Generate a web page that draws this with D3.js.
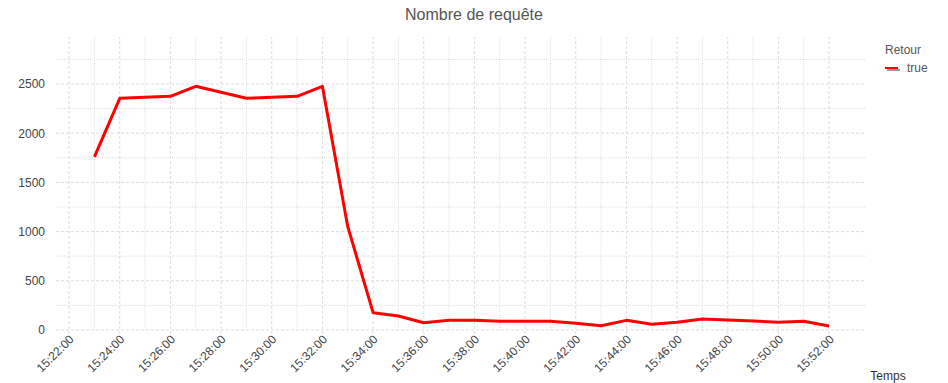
<!DOCTYPE html>
<html>
<head>
<meta charset="utf-8">
<script src="https://cdn.jsdelivr.net/npm/d3@7"></script>
<style>
  body { margin: 0; background: #fff; }
  svg { display: block; font-family: "Liberation Sans", Arial, sans-serif; }
</style>
</head>
<body>
<div id="chart"></div>
<script>
// minutes 15:23 .. 15:52, one point each
const times = ["15:23","15:24","15:25","15:26","15:27","15:28","15:29","15:30","15:31","15:32",
               "15:33","15:34","15:35","15:36","15:37","15:38","15:39","15:40","15:41","15:42",
               "15:43","15:44","15:45","15:46","15:47","15:48","15:49","15:50","15:51","15:52"];
const requests = [1760, 2354, 2365, 2374, 2476, 2415, 2354, 2365, 2374, 2476,
                  1050, 176, 142, 74, 98, 98, 88, 88, 88, 68,
                  44, 98, 58, 78, 112, 102, 91, 78, 88, 41];
const yTicks = [0, 500, 1000, 1500, 2000, 2500];
const seriesName = "true";

const width = 948, height = 383;
const margin = { top: 37, right: 83, bottom: 53, left: 56 };

const parse = d3.timeParse("%H:%M");
const data = times.map((t, i) => ({ t: parse(t), v: requests[i] }));

const svg = d3.select("#chart").append("svg")
  .attr("width", width)
  .attr("height", height);

const x = d3.scaleTime()
  .domain([d3.timeSecond.offset(parse("15:22"), -31), d3.timeSecond.offset(parse("15:52"), 85)])
  .range([margin.left, width - margin.right]);

const y = d3.scaleLinear()
  .domain([0, 2977])
  .range([height - margin.bottom, margin.top]);

const x0 = margin.left, x1 = width - margin.right;
const y0 = height - margin.bottom, y1 = margin.top;

// minor grid
const minorX = d3.timeMinute.range(parse("15:23"), parse("15:53"), 2);
svg.append("g").selectAll("line").data(minorX).join("line")
  .attr("x1", d => x(d)).attr("x2", d => x(d))
  .attr("y1", y0).attr("y2", y1)
  .attr("stroke", "#ddd").attr("stroke-dasharray", "1,1");
const minorY = d3.range(250, 3000, 500);
svg.append("g").selectAll("line").data(minorY).join("line")
  .attr("x1", x0).attr("x2", x1)
  .attr("y1", d => y(d)).attr("y2", d => y(d))
  .attr("stroke", "#ddd").attr("stroke-dasharray", "1,1");

// major grid
const majorX = d3.timeMinute.range(parse("15:22"), parse("15:53"), 2);
svg.append("g").selectAll("line").data(majorX).join("line")
  .attr("x1", d => x(d)).attr("x2", d => x(d))
  .attr("y1", y0 + 4).attr("y2", y1)
  .attr("stroke", "#ddd").attr("stroke-dasharray", "3,2");
svg.append("g").selectAll("line").data(yTicks).join("line")
  .attr("x1", x0).attr("x2", x1)
  .attr("y1", d => y(d)).attr("y2", d => y(d))
  .attr("stroke", "#ddd").attr("stroke-dasharray", "3,2");

// axes labels
const xAxis = d3.axisBottom(x).tickValues(majorX).tickFormat(d3.timeFormat("%H:%M:%S")).tickSize(0);
const gx = svg.append("g").attr("transform", `translate(0,${y0})`).call(xAxis);
gx.select(".domain").remove();
gx.selectAll("text")
  .attr("fill", "#444").attr("font-size", 12)
  .attr("text-anchor", "end")
  .attr("dy", null).attr("y", 0)
  .attr("transform", "translate(5,10) rotate(-45)");

const yAxis = d3.axisLeft(y).tickValues(yTicks).tickFormat(d3.format("d")).tickSize(0).tickPadding(11);
const gy = svg.append("g").attr("transform", `translate(${x0},0)`).call(yAxis);
gy.select(".domain").remove();
gy.selectAll("text").attr("fill", "#444").attr("font-size", 12);

// line
svg.append("path").datum(data)
  .attr("fill", "none")
  .attr("stroke", "#ff0000")
  .attr("stroke-width", 3)
  .attr("stroke-linejoin", "round")
  .attr("d", d3.line().x(d => x(d.t)).y(d => y(d.v)));

// title
svg.append("text")
  .attr("x", 474).attr("y", 20)
  .attr("text-anchor", "middle")
  .attr("fill", "#555").attr("font-size", 16)
  .text("Nombre de requête");

// x title
svg.append("text")
  .attr("x", 888).attr("y", 380)
  .attr("text-anchor", "middle")
  .attr("fill", "#333").attr("font-size", 12)
  .text("Temps");

// legend
const lg = svg.append("g").attr("transform", "translate(885,0)");
lg.append("text").attr("x", 0).attr("y", 54)
  .attr("fill", "#555").attr("font-size", 12).text("Retour");
lg.append("line").attr("x1", 2).attr("x2", 15).attr("y1", 70).attr("y2", 70)
  .attr("stroke", "#999").attr("stroke-width", 2);
lg.append("line").attr("x1", 0).attr("x2", 13).attr("y1", 68).attr("y2", 68)
  .attr("stroke", "#ff0000").attr("stroke-width", 2);
lg.append("text").attr("x", 22).attr("y", 72)
  .attr("fill", "#555").attr("font-size", 12).text(seriesName);
</script>
</body>
</html>
